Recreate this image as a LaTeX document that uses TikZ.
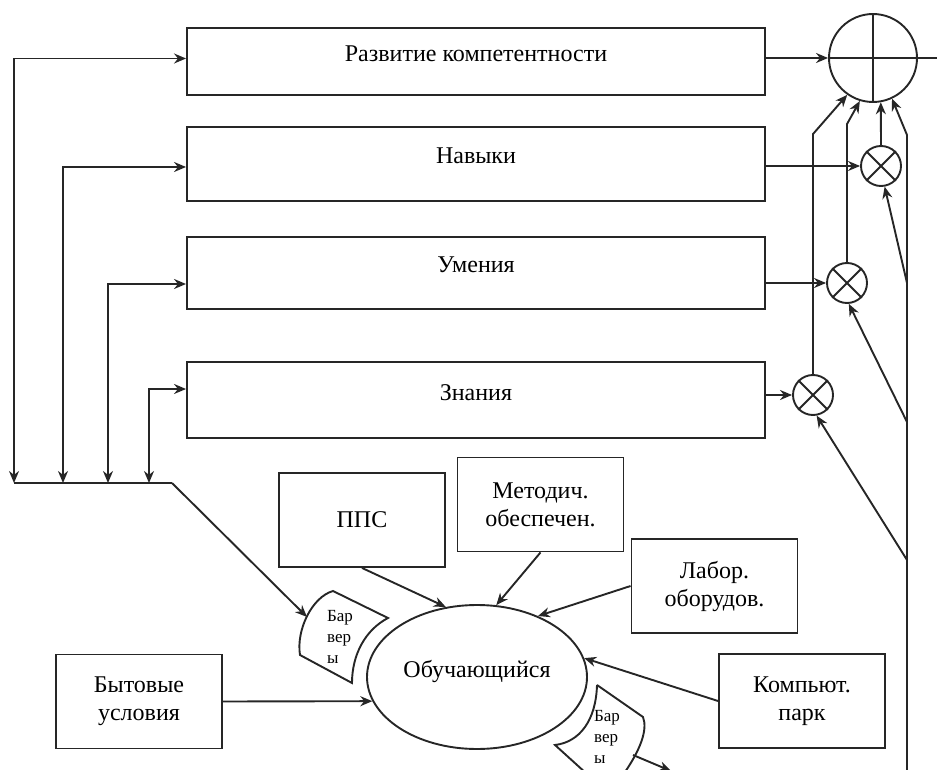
\documentclass[tikz,border=0pt]{standalone}
\usepackage{fontspec}
\setmainfont{Liberation Serif}
\usetikzlibrary{arrows.meta}
\usetikzlibrary{shapes.geometric}

\tikzset{
	blok/.style={draw, rectangle, inner sep=0pt, font=\fontsize{12}{14}\selectfont},
	dlinny/.style={blok, minimum width=289pt, text height=9pt, text depth=9pt},
	maly/.style={blok, align=center, minimum width=83pt, minimum height=47pt},
	umnozh/.style={draw, circle, inner sep=0pt, minimum size=20pt},
	barer/.style={align=left, inner sep=0pt, font=\fontsize{8.5}{10.5}\selectfont}
}

\begin{document}
\begin{tikzpicture}[x=0.5pt, y=-0.5pt, line width=0.95pt, draw=black!85, >={Stealth[length=6pt,width=5pt]}]
	\useasboundingbox (0,0) rectangle (937,770);
	\clip (0,0) rectangle (937,770);
	\node[dlinny, minimum height=33.5pt] (razv) at (476,61.5) {Развитие компетентности};
	\node[dlinny, minimum height=37pt] (navyki) at (476,164) {Навыки};
	\node[dlinny, minimum height=36pt] (umeniya) at (476,273) {Умения};
	\node[dlinny, minimum height=38pt] (znaniya) at (476,400) {Знания};
	\node[draw, circle, inner sep=0pt, minimum size=44pt] (summa) at (873,58) {};
	\node[umnozh] (u1) at (881,166) {};
	\node[umnozh] (u2) at (847,283) {};
	\node[umnozh] (u3) at (813,395) {};
	\node[maly] (pps) at (362,520) {ППС};
	\node[maly] (metod) at (540.5,504.5) {Методич.\\обеспечен.};
	\node[maly] (labor) at (714.5,586) {Лабор.\\оборудов.};
	\node[maly] (komp) at (802,701) {Компьют.\\парк};
	\node[maly] (byt) at (139,701.5) {Бытовые\\условия};
	\node[draw, ellipse, inner sep=0pt, minimum width=110pt, minimum height=72pt, text height=9pt, text depth=9pt, font=\fontsize{12}{14}\selectfont] (uchen) at (477,677) {Обучающийся};
	\coordinate (vyhod) at (937,58);
	\coordinate (l1) at (14,483);
	\coordinate (l2) at (63,483);
	\coordinate (l3) at (108,483);
	\coordinate (l4) at (149,483);
	\coordinate (shina) at (172,483);
	\coordinate (bar1) at (307,617);
	\coordinate (bar2) at (633,755);
	\coordinate (bar2kon) at (671,771);
	\coordinate (niz) at (907,780);
	\coordinate (verh) at (907,135);
	\coordinate (r1) at (907,283);
	\coordinate (r2) at (907,422);
	\coordinate (r3) at (907,560);
	\draw (summa.north) -- (summa.south);
	\draw (summa.west) -- (vyhod);
	\foreach \u in {u1,u2,u3}
		\draw (\u.45) -- (\u.225) (\u.135) -- (\u.315);
	\draw[->] (razv.east |- summa) -- (summa.west);
	\draw[->] (navyki.east |- u1) -- (u1.west);
	\draw[->] (umeniya.east |- u2) -- (u2.west);
	\draw[->] (znaniya.east |- u3) -- (u3.west);
	\draw[->] (u1.north) -- (summa.-80);
	\draw[->] (u2.north) -- ++(0,-138) -- (summa.-107);
	\draw[->] (u3.north) -- ++(0,-240) -- (summa.-125);
	\draw[->] (niz) -- (verh) -- (summa.-65);
	\draw[->] (r1) -- (u1.-80);
	\draw[->] (r2) -- (u2.-85);
	\draw[->] (r3) -- (u3.-80);
	\draw[<->] (l1) |- ([yshift=1.5pt]razv.west);
	\draw[<->] (l2) |- ([yshift=-1.5pt]navyki.west);
	\draw[<->] (l3) |- ([yshift=-5.5pt]umeniya.west);
	\draw[<->] (l4) |- ([yshift=5.5pt]znaniya.west);
	\draw (l1) -- (shina);
	\draw[->] (shina) -- (bar1);
	\draw (300,655) .. controls (296,630) and (312,597) .. (333,591) -- (388,618) .. controls (365,630) and (352,655) .. (352,683) -- cycle;
	\draw (597,685) -- (643,717) .. controls (648,730) and (640,750) .. (625,772) -- (618,790) -- (598,784) -- (555,745) .. controls (580,742) and (596,720) .. (597,685);
	\node[barer] (b1text) at (340,637) {Бар\\вер\\ы};
	\node[barer] (b2text) at (607,737) {Бар\\вер\\ы};
	\draw[->] (pps.south) -- (uchen.114);
	\draw[->] (metod.south) -- (uchen.75);
	\draw[->] (labor.west) -- (uchen.45);
	\draw[->] (komp.west) -- (uchen.10);
	\draw[->] (byt.east) -- (uchen.193);
	\draw[->] (bar2) -- (bar2kon);
\end{tikzpicture}
\end{document}
